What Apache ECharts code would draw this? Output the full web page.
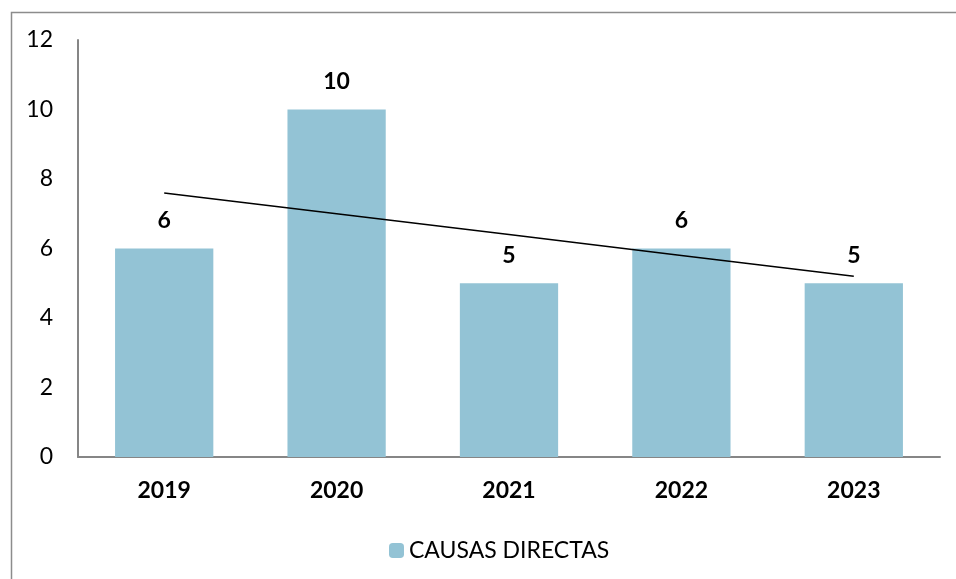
<!DOCTYPE html>
<html>
<head>
<meta charset="utf-8">
<script src="https://cdn.jsdelivr.net/npm/echarts@6/dist/echarts.min.js"></script>
<style>
  html, body { margin: 0; padding: 0; background: #fff; }
  #chart { width: 956px; height: 579px; }
</style>
</head>
<body>
<div id="chart"></div>
<script>
var years = ['2019', '2020', '2021', '2022', '2023'];
var causasDirectas = [6, 10, 5, 6, 5];
// linear trend line
var tendencia = [7.6, 7.0, 6.4, 5.8, 5.2];

var font = 'Lato, "Open Sans", sans-serif';

var chart = echarts.init(document.getElementById('chart'));

chart.setOption({
  animation: false,
  graphic: [{
    type: 'rect',
    left: 9, top: 10,
    shape: { width: 960, height: 600 },
    style: { fill: 'none', stroke: '#8c8c8c', lineWidth: 1.5 },
    silent: true
  }],
  grid: { left: 78, right: 16, top: 40, bottom: 122 },
  legend: {
    data: ['CAUSAS DIRECTAS'],
    left: 384, top: 534,
    itemWidth: 15, itemHeight: 15, itemGap: 7,
    textStyle: { fontFamily: font, fontSize: 23, color: '#000' }
  },
  xAxis: {
    type: 'category',
    data: years,
    axisLine: { lineStyle: { color: '#868686', width: 2 } },
    axisTick: { show: false },
    axisLabel: { fontFamily: font, fontSize: 23, fontWeight: 'bold', color: '#000', margin: 22 }
  },
  yAxis: {
    type: 'value',
    min: 0, max: 12, interval: 2,
    axisLine: { show: true, lineStyle: { color: '#868686', width: 2 } },
    axisTick: { show: false },
    splitLine: { show: false },
    axisLabel: { fontFamily: font, fontSize: 23, color: '#000', margin: 25 }
  },
  series: [{
    name: 'CAUSAS DIRECTAS',
    type: 'bar',
    data: causasDirectas,
    barWidth: '57%',
    itemStyle: { color: '#93c3d5' },
    label: {
      show: true, position: 'top', distance: 16,
      fontFamily: font, fontSize: 23, fontWeight: 'bold', color: '#000'
    }
  }, {
    name: 'Tendencia',
    type: 'line',
    data: tendencia,
    symbol: 'none',
    lineStyle: { color: '#000', width: 1.5 },
    z: 5
  }]
});
</script>
</body>
</html>
